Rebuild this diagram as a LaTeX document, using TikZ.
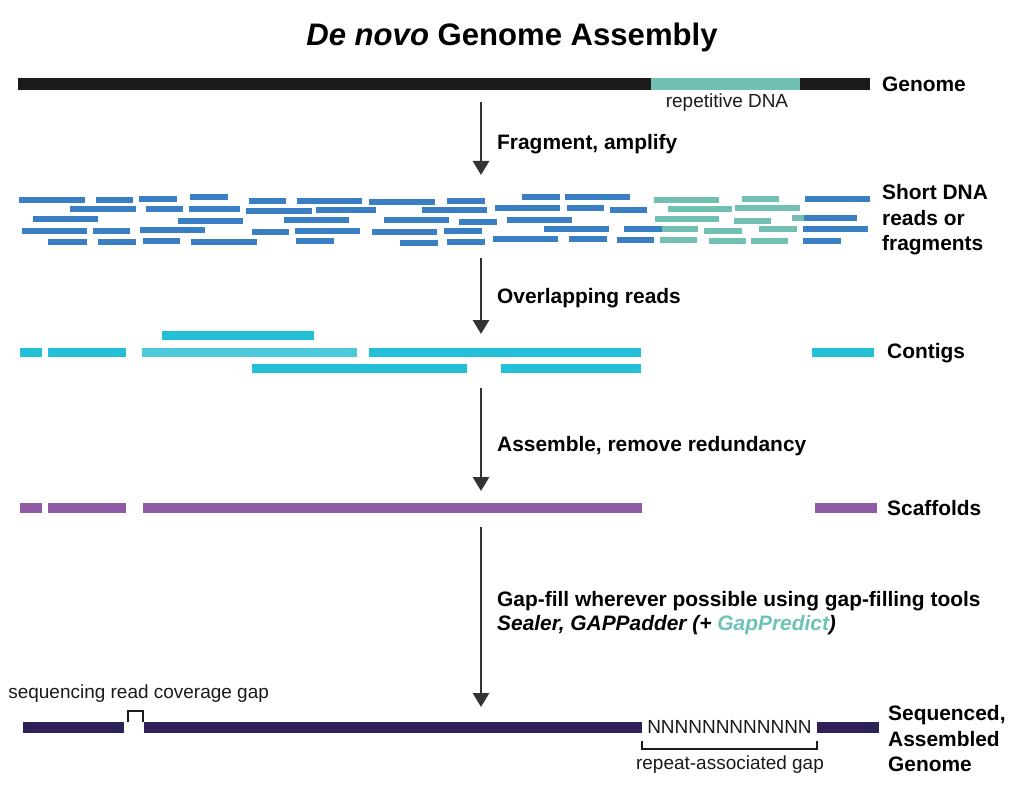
\documentclass[tikz,border=0pt]{standalone}
\usepackage{fontspec}
\setmainfont{Liberation Sans}
\usetikzlibrary{arrows.meta}

\definecolor{genomeblack}{HTML}{1A1A1A}
\definecolor{repteal}{HTML}{72BFB4}
\definecolor{readblue}{HTML}{3A7FC3}
\definecolor{contigcyan}{HTML}{22BFD7}
\definecolor{contiglight}{HTML}{4CCADB}
\definecolor{scaffpurple}{HTML}{8F5BA5}
\definecolor{finalnavy}{HTML}{2E2157}
\definecolor{arrowgray}{HTML}{333333}
\definecolor{predteal}{HTML}{6CC3B5}

\begin{document}
\begin{tikzpicture}[x=0.02cm,y=-0.02cm,
  read/.style={line width=0.13cm, readblue},
  rep/.style={line width=0.13cm, repteal},
  contig/.style={line width=0.18cm, contigcyan},
  scaff/.style={line width=0.22cm, scaffpurple},
  final/.style={line width=0.22cm, finalnavy},
  flowarrow/.style={arrowgray, line width=1.6pt, -{Triangle[width=0.32cm,length=0.28cm]}},
  steplabel/.style={anchor=west, font=\fontsize{11.9}{13.8}\selectfont\bfseries, align=left},
  sidelabel/.style={anchor=west, font=\fontsize{11.9}{14.5}\selectfont\bfseries, align=left},
  smalllabel/.style={font=\fontsize{10.8}{12}\selectfont, text=genomeblack},
  bracketline/.style={genomeblack, line width=0.8pt}]
  \useasboundingbox (0,0) rectangle (1018,790);

  \node[font=\fontsize{17.7}{20}\selectfont\bfseries] (title) at (512,37) {\textit{De novo} Genome Assembly};

  % genome
  \draw[line width=0.24cm, genomeblack] (18,84) -- (870,84);
  \draw[line width=0.24cm, repteal] (651,84) -- (800,84);
  \node[sidelabel] (lgenome) at (876,84) {Genome};
  \node[smalllabel] (lrep) at (727,103) {repetitive DNA};

  \coordinate (a1s) at (481,102);
  \coordinate (a1e) at (481,175);
  \draw[flowarrow] (a1s) -- (a1e);
  \node[steplabel] (lfrag) at (491,144) {Fragment, amplify};

  % short reads, repeat ones first
  \foreach \xa/\xb/\yy in {654/719/200, 742/779/199, 668/732/209, 735/800/208,
      655/719/219, 734/771/221, 792/805/218, 633/698/229, 704/742/231, 759/797/229,
      660/697/240, 709/746/241, 751/788/241}
    \draw[rep] (\xa,\yy) -- (\xb,\yy);
  \foreach \xa/\xb/\yy in {19/85/200, 96/133/200, 139/177/199, 190/228/197, 249/286/201,
      297/362/201, 369/435/202, 447/485/201, 522/560/197, 565/630/197, 805/870/199,
      70/136/209, 146/183/209, 189/240/209, 246/312/211, 316/376/210, 422/487/210,
      495/560/208, 567/604/208, 610/647/210,
      33/98/219, 178/243/221, 284/349/220, 384/449/220, 459/497/222, 507/572/220, 804/857/218,
      22/87/231, 93/130/231, 140/205/230, 252/289/232, 295/360/231, 372/437/232, 444/482/231,
      544/609/229, 624/662/229, 803/868/229,
      48/87/242, 98/136/242, 143/180/241, 191/257/242, 296/334/241, 400/438/243, 447/485/242,
      493/558/239, 569/607/239, 617/654/240, 803/841/241}
    \draw[read] (\xa,\yy) -- (\xb,\yy);
  \node[sidelabel] (lreads) at (876,220) {Short DNA\\reads or\\fragments};

  \coordinate (a2s) at (481,258);
  \coordinate (a2e) at (481,334);
  \draw[flowarrow] (a2s) -- (a2e);
  \node[steplabel] (loverlap) at (491,298) {Overlapping reads};

  % contigs
  \draw[contig] (162,336) -- (314,336);
  \draw[contig] (20,353) -- (42,353);
  \draw[contig] (48,353) -- (126,353);
  \draw[contig, contiglight] (142,353) -- (357,353);
  \draw[contig] (369,353) -- (641,353);
  \draw[contig] (252,369) -- (467,369);
  \draw[contig] (501,369) -- (641,369);
  \draw[contig] (812,353) -- (874,353);
  \node[sidelabel] (lcontigs) at (881,353) {Contigs};

  \coordinate (a3s) at (481,388);
  \coordinate (a3e) at (481,491);
  \draw[flowarrow] (a3s) -- (a3e);
  \node[steplabel] (lassemble) at (491,446) {Assemble, remove redundancy};

  % scaffolds
  \draw[scaff] (20,508) -- (42,508);
  \draw[scaff] (48,508) -- (126,508);
  \draw[scaff] (143,508) -- (642,508);
  \draw[scaff] (815,508) -- (877,508);
  \node[sidelabel] (lscaff) at (881,508) {Scaffolds};

  \coordinate (a4s) at (481,527);
  \coordinate (a4e) at (481,707);
  \draw[flowarrow] (a4s) -- (a4e);
  \node[steplabel] (lgapfill) at (491,613) {Gap-fill wherever possible using gap-filling tools\\
    \textit{Sealer, GAPPadder (+ \textcolor{predteal}{GapPredict})}};

  % assembled genome
  \draw[final] (23,727) -- (124,727);
  \draw[final] (144,727) -- (642,727);
  \draw[final] (817,727) -- (879,727);
  \node[smalllabel, inner sep=0pt] (nrun) at (729.5,727) {NNNNNNNNNNNN};
  \draw[bracketline] (128,722) -- (128,711) -- (143,711) -- (143,722);
  \node[smalllabel, anchor=west, inner sep=0pt] (lcovgap) at (8,694) {sequencing read coverage gap};
  \draw[bracketline] (642,741) -- (642,749) -- (817,749) -- (817,741);
  \node[smalllabel] (lrepgap) at (730,765) {repeat-associated gap};
  \node[sidelabel] (lfinal) at (882,739) {Sequenced,\\Assembled\\Genome};
\end{tikzpicture}
\end{document}
